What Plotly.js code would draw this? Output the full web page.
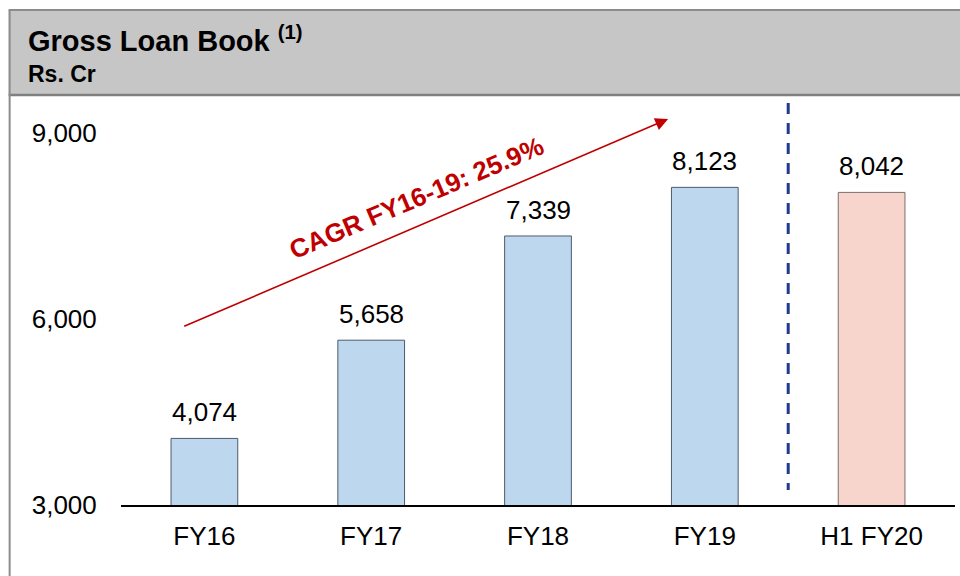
<!DOCTYPE html>
<html><head><meta charset="utf-8">
<script src="https://cdn.plot.ly/plotly-3.0.1.min.js"></script>
<style>html,body{margin:0;padding:0;background:#fff;}#chart{width:960px;height:576px;}</style>
</head><body><div id="chart"></div>
<script>
const categories = ["FY16", "FY17", "FY18", "FY19", "H1 FY20"];
const loanBook = [4074, 5658, 7339, 8123, 8042];
const barColors = ["#bdd7ee", "#bdd7ee", "#bdd7ee", "#bdd7ee", "#f8d5cc"];
const barLines = ["#4d5b6b", "#4d5b6b", "#4d5b6b", "#4d5b6b", "#7a6f6d"];
const yTicks = [3000, 6000, 9000];
const yTickText = ["3,000", "6,000", "9,000"];
const cagrLabel = "CAGR FY16-19: 25.9%";
const titleText = "Gross Loan Book <sup>(1)</sup>";
const unitText = "Rs. Cr";

const FONT = '"Liberation Sans", Arial, sans-serif';
// plot area geometry (pixels)
const L = 120.5, R = 955.5, T = 102, B = 505;
const px = x => (x - L) / (R - L);
const py = y => (B - y) / (B - T);

const trace = {
  type: "bar",
  x: categories,
  y: loanBook,
  base: 0,
  width: 0.4,
  marker: {color: barColors, line: {color: barLines, width: 1}},
  hoverinfo: "none"
};

const annotations = categories.map((c, i) => ({
  x: i, y: loanBook[i], xref: "x", yref: "y",
  text: loanBook[i].toLocaleString("en-US"),
  showarrow: false, yanchor: "bottom", yshift: 9,
  font: {family: FONT, size: 26, color: "#000"}
}));

annotations.push({
  x: 2.78, y: 9226, ax: -0.13, ay: 5871, xref: "x", yref: "y", axref: "x", ayref: "y",
  text: "", showarrow: true, arrowhead: 2, arrowsize: 1.6, arrowwidth: 1.6, arrowcolor: "#c00000"
});
annotations.push({
  x: 1.27, y: 7950, xref: "x", yref: "y", text: "<b>" + cagrLabel + "</b>",
  showarrow: false, textangle: -23,
  font: {family: FONT, size: 26, color: "#c00000"}
});
annotations.push({
  x: px(25), y: py(39), xref: "paper", yref: "paper", xanchor: "left", yanchor: "middle",
  text: "<b>" + titleText + "</b>", showarrow: false,
  font: {family: FONT, size: 29, color: "#000"}
});
annotations.push({
  x: px(25), y: py(74), xref: "paper", yref: "paper", xanchor: "left", yanchor: "middle",
  text: "<b>" + unitText + "</b>", showarrow: false,
  font: {family: FONT, size: 23, color: "#000"}
});

const shapes = [
  {type: "rect", xref: "paper", yref: "paper", x0: px(8), x1: px(965), y0: py(95), y1: py(10),
   fillcolor: "#c6c6c6", line: {width: 0}, layer: "below"},
  {type: "line", xref: "paper", yref: "paper", x0: px(8), x1: px(965), y0: py(10), y1: py(10),
   line: {color: "#8c8c8c", width: 2}},
  {type: "line", xref: "paper", yref: "paper", x0: px(8), x1: px(965), y0: py(95), y1: py(95),
   line: {color: "#7f7f7f", width: 2.5}},
  {type: "line", xref: "paper", yref: "paper", x0: px(9), x1: px(9), y0: py(10), y1: py(580),
   line: {color: "#8c8c8c", width: 2}},
  {type: "line", xref: "x", yref: "paper", x0: 3.5, x1: 3.5, y0: py(103), y1: py(490),
   line: {color: "#1f3a8f", width: 3, dash: "11px,9px"}}
];

const layout = {
  width: 960, height: 576,
  margin: {l: L, r: 960 - R, t: T, b: 576 - B, pad: 0},
  paper_bgcolor: "#fff", plot_bgcolor: "#fff",
  showlegend: false,
  bargap: 0.6,
  font: {family: FONT, size: 26, color: "#000"},
  xaxis: {type: "category", range: [-0.5, 4.5], showgrid: false, zeroline: false,
    showline: true, linecolor: "#000", linewidth: 1.5,
    ticks: "outside", ticklen: 7, tickcolor: "rgba(0,0,0,0)",
    tickfont: {family: FONT, size: 26, color: "#000"}, fixedrange: true},
  yaxis: {range: [3000, 9500], tickvals: yTicks, ticktext: yTickText, showgrid: false,
    zeroline: false, showline: false, ticks: "outside", ticklen: 18, tickcolor: "rgba(0,0,0,0)",
    tickfont: {family: FONT, size: 26, color: "#000"}, fixedrange: true},
  annotations: annotations,
  shapes: shapes
};

Plotly.newPlot("chart", [trace], layout, {staticPlot: true});
</script></body></html>
